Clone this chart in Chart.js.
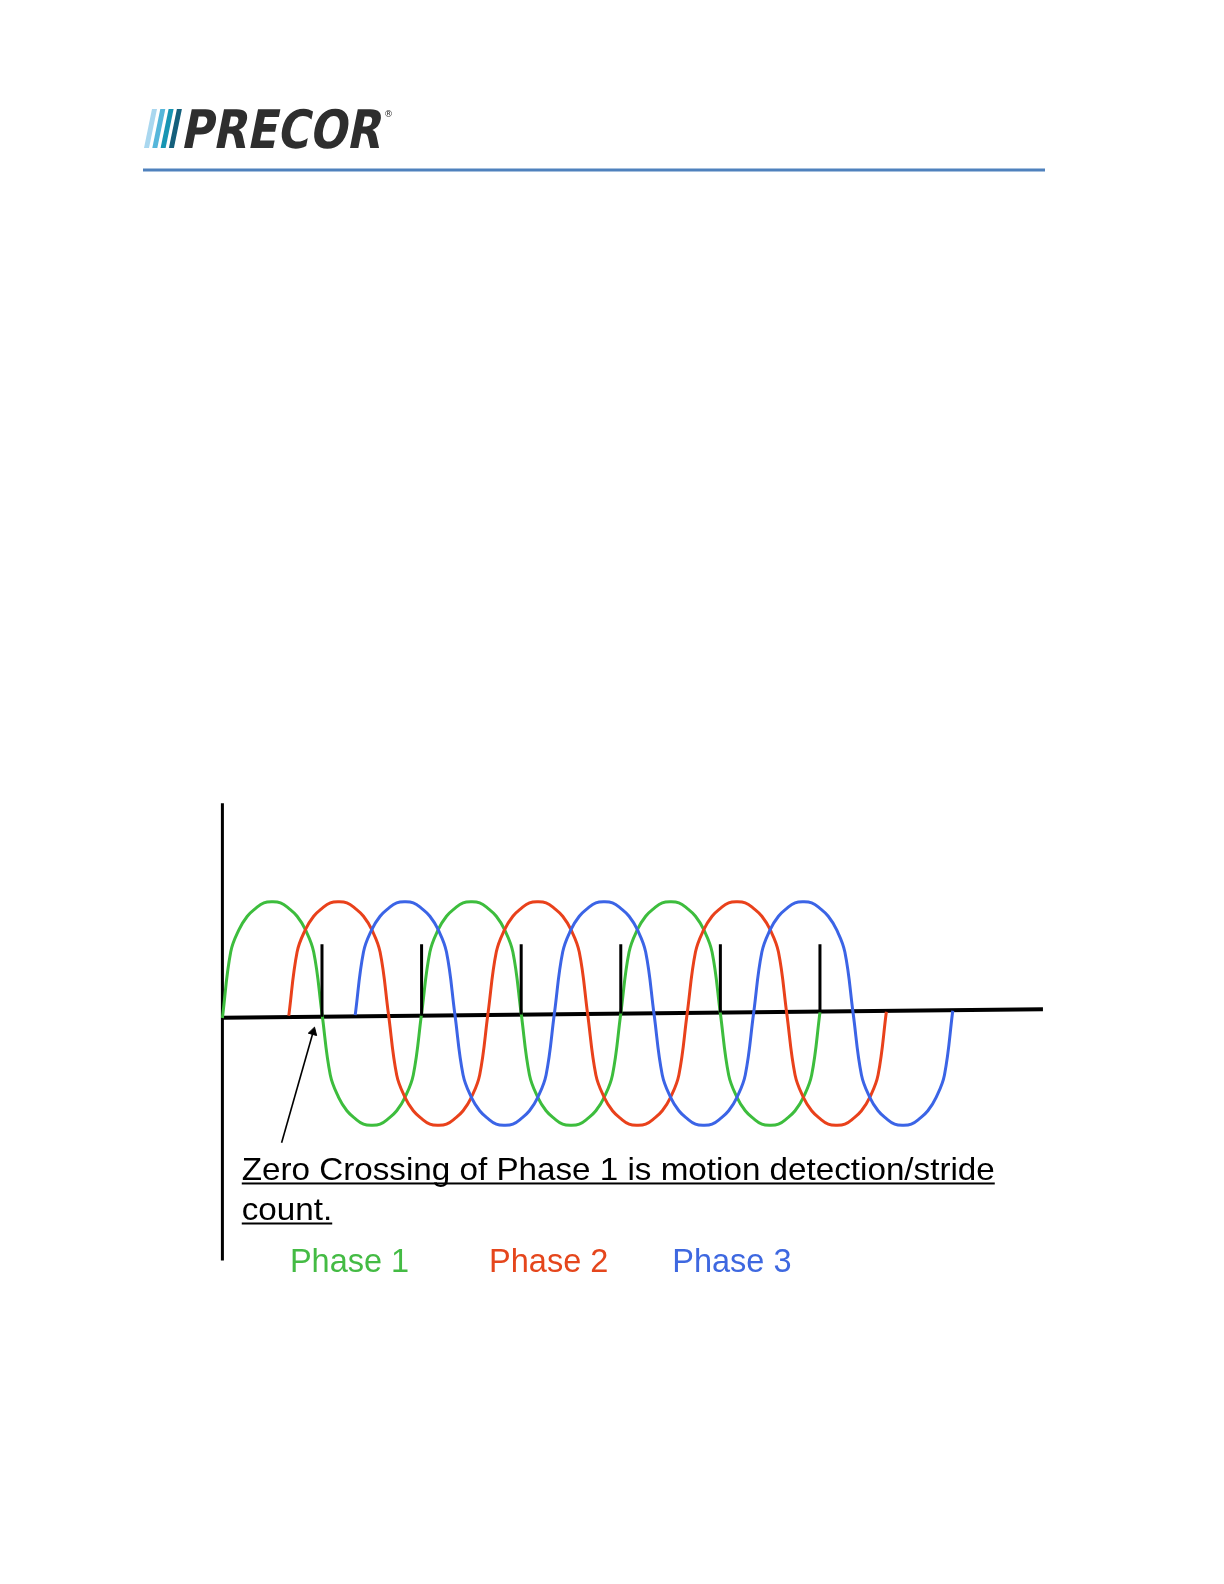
<!DOCTYPE html>
<html>
<head>
<meta charset="utf-8">
<title>Phase zero crossing</title>
<script src="https://cdn.jsdelivr.net/npm/chart.js@4.4.1/dist/chart.umd.min.js"></script>
<style>
    html, body { margin: 0; padding: 0; background: #ffffff; }
    #page { position: relative; width: 1224px; height: 1584px; }
</style>
</head>
<body>
<div id="page"><canvas id="myChart" width="1224" height="1584"></canvas></div>
<script>
// Electrical degrees along the time axis (one sample every 15 deg)
const degrees = [
    0, 15, 30, 45, 60, 75, 90, 105, 120, 135, 150, 165,
    180, 195, 210, 225, 240, 255, 270, 285, 300, 315, 330, 345,
    360, 375, 390, 405, 420, 435, 450, 465, 480, 495, 510, 525,
    540, 555, 570, 585, 600, 615, 630, 645, 660, 675, 690, 705,
    720, 735, 750, 765, 780, 795, 810, 825, 840, 855, 870, 885,
    900, 915, 930, 945, 960, 975, 990, 1005, 1020, 1035, 1050, 1065,
    1080, 1095, 1110, 1125, 1140, 1155, 1170, 1185, 1200, 1215, 1230, 1245,
    1260, 1275, 1290, 1305, 1320];

// Signal level (peak = 1); the lobes are round, with steep sides
const phase1 = [
    -0.04, 0.55, 0.75, 0.87, 0.94, 0.99, 1, 0.99, 0.94, 0.87, 0.75, 0.55,
    0, -0.55, -0.75, -0.87, -0.94, -0.99, -1, -0.99, -0.94, -0.87, -0.75, -0.55,
    0, 0.55, 0.75, 0.87, 0.94, 0.99, 1, 0.99, 0.94, 0.87, 0.75, 0.55,
    0, -0.55, -0.75, -0.87, -0.94, -0.99, -1, -0.99, -0.94, -0.87, -0.75, -0.55,
    0, 0.55, 0.75, 0.87, 0.94, 0.99, 1, 0.99, 0.94, 0.87, 0.75, 0.55,
    0, -0.55, -0.75, -0.87, -0.94, -0.99, -1, -0.99, -0.94, -0.87, -0.75, -0.55,
    0.01, null, null, null, null, null, null, null, null, null, null, null,
    null, null, null, null, null];
const phase2 = [
    null, null, null, null, null, null, null, null,
    -0.02, 0.55, 0.75, 0.87, 0.94, 0.99, 1, 0.99, 0.94, 0.87, 0.75, 0.55,
    0, -0.55, -0.75, -0.87, -0.94, -0.99, -1, -0.99, -0.94, -0.87, -0.75, -0.55,
    0, 0.55, 0.75, 0.87, 0.94, 0.99, 1, 0.99, 0.94, 0.87, 0.75, 0.55,
    0, -0.55, -0.75, -0.87, -0.94, -0.99, -1, -0.99, -0.94, -0.87, -0.75, -0.55,
    0, 0.55, 0.75, 0.87, 0.94, 0.99, 1, 0.99, 0.94, 0.87, 0.75, 0.55,
    0, -0.55, -0.75, -0.87, -0.94, -0.99, -1, -0.99, -0.94, -0.87, -0.75, -0.55,
    0.016, null, null, null, null, null, null, null, null];
const phase3 = [
    null, null, null, null, null, null, null, null,
    null, null, null, null, null, null, null, null,
    -0.015, 0.55, 0.75, 0.87, 0.94, 0.99, 1, 0.99, 0.94, 0.87, 0.75, 0.55,
    0, -0.55, -0.75, -0.87, -0.94, -0.99, -1, -0.99, -0.94, -0.87, -0.75, -0.55,
    0, 0.55, 0.75, 0.87, 0.94, 0.99, 1, 0.99, 0.94, 0.87, 0.75, 0.55,
    0, -0.55, -0.75, -0.87, -0.94, -0.99, -1, -0.99, -0.94, -0.87, -0.75, -0.55,
    0, 0.55, 0.75, 0.87, 0.94, 0.99, 1, 0.99, 0.94, 0.87, 0.75, 0.55,
    0, -0.55, -0.75, -0.87, -0.94, -0.99, -1, -0.99, -0.94, -0.87, -0.75, -0.55,
    0.025];

// Stride count markers at each zero crossing of phase 1
const strideTicks = [180, 360, 540, 720, 900, 1080];
const tickBase = [-0.03, -0.02, -0.01, 0, 0.01, 0.02];
const tickTop = 0.62;

// Hand-drawn axes and pointer arrow
const zeroLine = [{x: 0, y: -0.038}, {x: 1483, y: 0.038}];
const valueAxis = [{x: 0, y: 1.88}, {x: 0, y: -2.21}];
const arrowPath = [{x: 107, y: -1.156}, {x: 164, y: -0.165}];

const phaseLabels = ['Phase 1', 'Phase 2', 'Phase 3'];
const noteLines = ['Zero Crossing of Phase 1 is motion detection/stride', 'count.'];

// page geometry (pixels)
const ORIGIN_X = 222.4;
const PX_PER_DEG = 0.5533;
const ZERO_Y = 1013.5;
const PX_PER_UNIT = 111.8;
const W = 1224, H = 1584;

const colors = {
    phase1: '#3dbd3d',
    phase2: '#e9411b',
    phase3: '#3b64e6'
};

// build tick segments, separated by gaps
const tickPoints = [];
strideTicks.forEach(function(t, i) {
    tickPoints.push({x: t, y: tickBase[i]});
    tickPoints.push({x: t, y: tickTop});
    tickPoints.push({x: t, y: null});
});

// Header: logo and blue rule
const headerPlugin = {
    id: 'header',
    beforeDraw: function(chart) {
        const ctx = chart.ctx;
        ctx.save();
        ctx.fillStyle = '#ffffff';
        ctx.fillRect(0, 0, W, H);

        // blue rule
        ctx.fillStyle = '#4f81bd';
        ctx.fillRect(143, 168.5, 902, 3);

        // logo stripes
        const stripeColors = ['#a9d7ef', '#55b6da', '#1795b3', '#145f7b'];
        const top = 109, bottom = 148, slant = 8;
        stripeColors.forEach(function(c, i) {
            const x0 = 144 + i * 8.3;
            ctx.fillStyle = c;
            ctx.beginPath();
            ctx.moveTo(x0, bottom);
            ctx.lineTo(x0 + slant, top);
            ctx.lineTo(x0 + slant + 5, top);
            ctx.lineTo(x0 + 5, bottom);
            ctx.closePath();
            ctx.fill();
        });

        // logo word
        ctx.font = 'bold 53px "DejaVu Sans", sans-serif';
        ctx.textBaseline = 'alphabetic';
        const w = ctx.measureText('PRECOR').width;
        ctx.translate(180, bottom);
        ctx.transform(1, 0, -0.2, 1, 0, 0);
        ctx.scale(200 / w, 1);
        ctx.fillStyle = '#2e2e2e';
        ctx.fillText('PRECOR', 0, 0);
        ctx.restore();

        ctx.save();
        ctx.font = '9px "DejaVu Sans", sans-serif';
        ctx.fillStyle = '#2e2e2e';
        ctx.fillText('\u00AE', 384, 117);
        ctx.restore();
    }
};

// Note text and phase labels, placed with the chart scales
const textPlugin = {
    id: 'notes',
    afterDatasetsDraw: function(chart, args, opts) {
        const ctx = chart.ctx;
        const xs = chart.scales.x, ys = chart.scales.y;
        ctx.save();
        ctx.textBaseline = 'alphabetic';
        ctx.textAlign = 'left';

        ctx.font = '32px "Liberation Sans", Arial, sans-serif';
        const full = ctx.measureText(noteLines[0]).width;
        const sx = opts.noteWidth / full;
        noteLines.forEach(function(line, i) {
            const px = xs.getPixelForValue(opts.noteX);
            const py = ys.getPixelForValue(opts.noteY[i]);
            const lw = ctx.measureText(line).width * sx;
            ctx.save();
            ctx.translate(px, py);
            ctx.scale(sx, 1);
            ctx.fillStyle = '#000000';
            ctx.fillText(line, 0, 0);
            ctx.restore();
            ctx.fillStyle = '#000000';
            ctx.fillRect(px, py + 2.5, lw, 2);
        });

        ctx.font = '32.5px "Liberation Sans", Arial, sans-serif';
        const labelColors = ['#44bb44', '#e5461c', '#3e68e0'];
        phaseLabels.forEach(function(label, i) {
            ctx.fillStyle = labelColors[i];
            ctx.fillText(label, xs.getPixelForValue(opts.labelX[i]), ys.getPixelForValue(opts.labelY));
        });
        ctx.restore();
    }
};

const ctx = document.getElementById('myChart').getContext('2d');
const chart = new Chart(ctx, {
    type: 'line',
    data: {
        labels: degrees,
        datasets: [
            {
                label: 'Stride ticks',
                data: tickPoints,
                borderColor: '#000000',
                borderWidth: 3,
                tension: 0,
                pointRadius: 0,
                spanGaps: false,
                order: 0
            },
            {
                label: 'Phase 1',
                data: phase1,
                borderColor: colors.phase1,
                borderWidth: 3,
                tension: 0.4,
                pointRadius: 0,
                order: 3
            },
            {
                label: 'Phase 2',
                data: phase2,
                borderColor: colors.phase2,
                borderWidth: 3,
                tension: 0.4,
                pointRadius: 0,
                order: 2
            },
            {
                label: 'Phase 3',
                data: phase3,
                borderColor: colors.phase3,
                borderWidth: 3,
                tension: 0.4,
                pointRadius: 0,
                order: 1
            },
            {
                label: 'Zero line',
                data: zeroLine,
                borderColor: '#000000',
                borderWidth: 4,
                tension: 0,
                pointRadius: 0,
                order: 5
            },
            {
                label: 'Value axis',
                data: valueAxis,
                borderColor: '#000000',
                borderWidth: 3,
                tension: 0,
                pointRadius: 0,
                order: 5
            },
            {
                label: 'Pointer',
                data: arrowPath,
                borderColor: '#000000',
                backgroundColor: '#000000',
                borderWidth: 1.6,
                tension: 0,
                pointStyle: 'triangle',
                pointRadius: [0, 5],
                pointRotation: 16,
                pointBorderWidth: 1,
                order: 4
            }
        ]
    },
    plugins: [headerPlugin, textPlugin],
    options: {
        responsive: false,
        devicePixelRatio: 1,
        animation: false,
        events: [],
        layout: { padding: 0, autoPadding: false },
        scales: {
            x: {
                type: 'linear',
                display: false,
                bounds: 'data',
                min: -ORIGIN_X / PX_PER_DEG,
                max: (W - ORIGIN_X) / PX_PER_DEG
            },
            y: {
                type: 'linear',
                display: false,
                bounds: 'data',
                min: -(H - ZERO_Y) / PX_PER_UNIT,
                max: ZERO_Y / PX_PER_UNIT
            }
        },
        plugins: {
            legend: { display: false },
            tooltip: { enabled: false },
            notes: {
                noteX: 35,
                noteY: [-1.489, -1.847],
                noteWidth: 753,
                labelX: [122, 482, 813],
                labelY: -2.31
            }
        }
    }
});
</script>
</body>
</html>
